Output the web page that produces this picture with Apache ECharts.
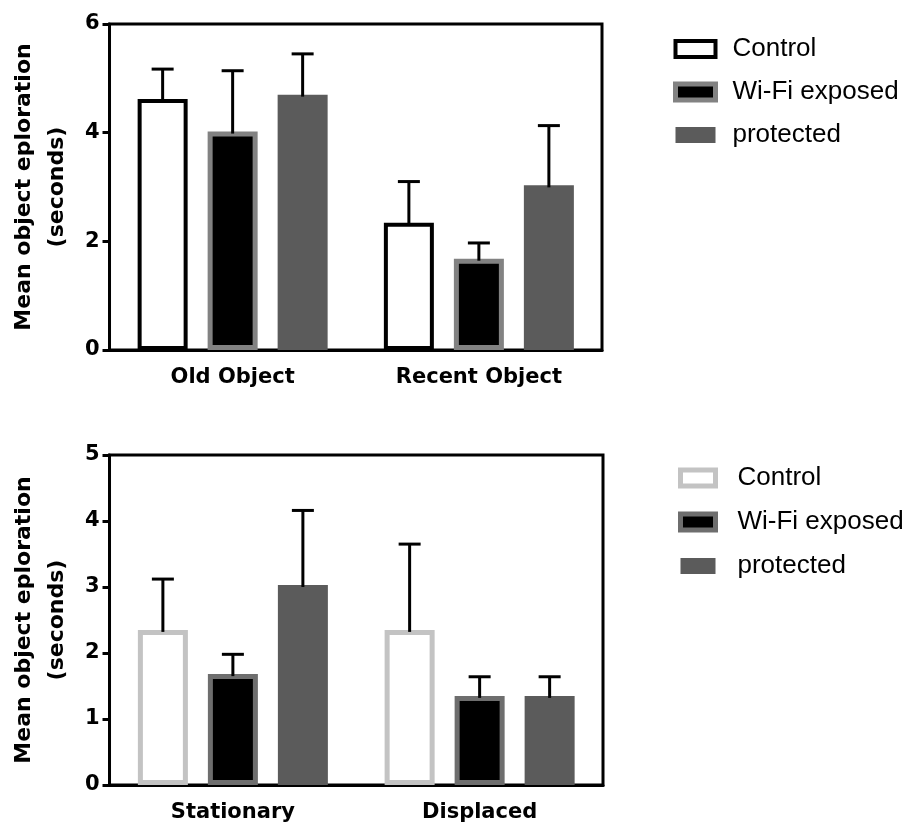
<!DOCTYPE html>
<html>
<head>
<meta charset="utf-8">
<script src="https://cdn.jsdelivr.net/npm/echarts@6/dist/echarts.min.js"></script>
<style>
  body { margin: 0; background: #fff; }
  #box1 { width: 911px; height: 412px; }
  #box2 { width: 911px; height: 413px; }
</style>
</head>
<body>
<div id="box1"></div>
<div id="box2"></div>
<script>
// 数据
const seriesNames = ['Control', 'Wi-Fi exposed', 'protected']

const topCats = ['Old Object', 'Recent Object']
const topControl = [4.62, 2.34]
const topControlSem = [0.55, 0.76]
const topWifi = [4.02, 1.68]
const topWifiSem = [1.12, 0.29]
const topProtected = [4.70, 3.03]
const topProtectedSem = [0.75, 1.10]

const bottomCats = ['Stationary', 'Displaced']
const bottomControl = [2.35, 2.35]
const bottomControlSem = [0.77, 1.30]
const bottomWifi = [1.68, 1.35]
const bottomWifiSem = [0.30, 0.29]
const bottomProtected = [3.03, 1.35]
const bottomProtectedSem = [1.13, 0.29]

const barW = 50
const gapRatio = 0.4
const pitch = barW * (1 + gapRatio)
const boldFont = 'DejaVu Sans'

function errorBar(offset) {
  return function (params, api) {
    const cat = api.value(0)
    const base = api.coord([cat, api.value(1)])
    const top = api.coord([cat, api.value(1) + api.value(2)])
    const x = base[0] + offset
    return {
      type: 'group',
      children: [
        { type: 'line', shape: { x1: x, y1: base[1] + 2, x2: x, y2: top[1] }, style: { stroke: '#000', lineWidth: 3 } },
        { type: 'line', shape: { x1: x - 11, y1: top[1], x2: x + 11, y2: top[1] }, style: { stroke: '#000', lineWidth: 3 } }
      ]
    }
  }
}

function errData(means, sems) {
  return means.map((m, i) => [i, m, sems[i]])
}

function buildOption(cfg) {
  const styles = cfg.styles
  const bars = cfg.means.map((vals, i) => ({
    name: seriesNames[i],
    type: 'bar',
    barWidth: barW,
    barGap: (gapRatio * 100) + '%',
    data: vals,
    itemStyle: styles[i],
    z: 2
  }))
  const errs = cfg.means.map((vals, i) => ({
    type: 'custom',
    renderItem: errorBar((i - 1) * pitch),
    encode: { x: 0, y: 1 },
    data: errData(vals, cfg.sems[i]),
    z: 3
  }))
  return {
    animation: false,
    grid: Object.assign({ show: true, borderColor: '#000', borderWidth: 3 }, cfg.grid),
    legend: {
      orient: 'vertical',
      left: cfg.legend.left,
      top: cfg.legend.top,
      padding: 0,
      itemGap: cfg.legend.gap,
      itemWidth: cfg.legend.w,
      itemHeight: 16,
      icon: 'rect',
      textStyle: {
        fontFamily: 'Liberation Sans',
        fontSize: 26,
        color: '#000',
        padding: [0, 0, 0, cfg.legend.textPad]
      },
      data: seriesNames.map((n, i) => ({ name: n, itemStyle: styles[i] }))
    },
    xAxis: {
      type: 'category',
      data: cfg.cats,
      axisLine: { lineStyle: { color: '#000', width: 3 } },
      axisTick: { alignWithLabel: true, length: 8, lineStyle: { color: '#000', width: 3 } },
      axisLabel: { fontFamily: boldFont, fontWeight: 'bold', fontSize: 21, color: '#000', margin: 17 }
    },
    yAxis: {
      type: 'value',
      min: 0,
      max: cfg.yMax,
      interval: cfg.yStep,
      name: 'Mean object eploration\n(seconds)',
      nameLocation: 'middle',
      nameRotate: 90,
      nameGap: 32,
      nameTextStyle: { fontFamily: boldFont, fontWeight: 'bold', fontSize: 22, lineHeight: 33, color: '#000' },
      axisLine: { show: true, lineStyle: { color: '#000', width: 3 } },
      axisTick: { show: true, length: 7, lineStyle: { color: '#000', width: 3 } },
      splitLine: { show: false },
      axisLabel: { fontFamily: boldFont, fontWeight: 'bold', fontSize: 21, color: '#000', margin: 10 }
    },
    series: bars.concat(errs)
  }
}

const topChart = echarts.init(document.getElementById('box1'))
topChart.setOption(buildOption({
  cats: topCats,
  means: [topControl, topWifi, topProtected],
  sems: [topControlSem, topWifiSem, topProtectedSem],
  yMax: 6,
  yStep: 2,
  grid: { left: 107, right: 309, top: 24, bottom: 62 },
  legend: { left: 673, top: 36, gap: 17, w: 40, textPad: 12 },
  styles: [
    { color: '#fff', borderColor: '#000', borderWidth: 4 },
    { color: '#000', borderColor: '#828282', borderWidth: 5 },
    { color: '#5b5b5b' }
  ]
}))

const bottomChart = echarts.init(document.getElementById('box2'))
bottomChart.setOption(buildOption({
  cats: bottomCats,
  means: [bottomControl, bottomWifi, bottomProtected],
  sems: [bottomControlSem, bottomWifiSem, bottomProtectedSem],
  yMax: 5,
  yStep: 1,
  grid: { left: 105, right: 308, top: 43, bottom: 40 },
  legend: { left: 678, top: 53, gap: 18, w: 35, textPad: 17 },
  styles: [
    { color: '#fff', borderColor: '#c3c3c3', borderWidth: 5 },
    { color: '#000', borderColor: '#6e6e6e', borderWidth: 5 },
    { color: '#5b5b5b' }
  ]
}))
</script>
</body>
</html>
